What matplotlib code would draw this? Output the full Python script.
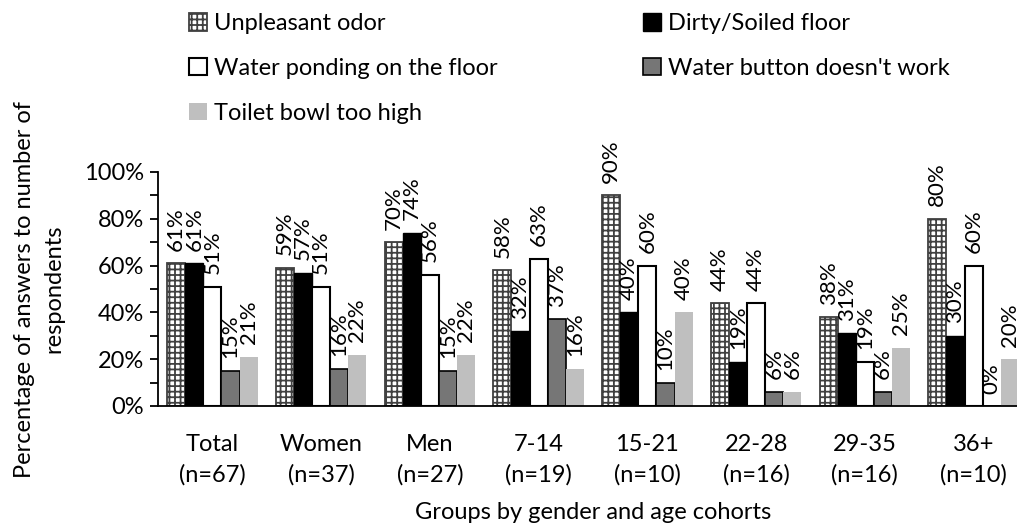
import numpy as np
import matplotlib.pyplot as plt
from matplotlib.patches import Patch

plt.rcParams["font.family"] = ["Lato", "DejaVu Sans"]
plt.rcParams["hatch.linewidth"] = 1.3

groups = ["Total\n(n=67)", "Women\n(n=37)", "Men\n(n=27)", "7-14\n(n=19)",
          "15-21\n(n=10)", "22-28\n(n=16)", "29-35\n(n=16)", "36+\n(n=10)"]

unpleasant_odor = [61, 59, 70, 58, 90, 44, 38, 80]
dirty_floor = [61, 57, 74, 32, 40, 19, 31, 30]
water_ponding = [51, 51, 56, 63, 60, 44, 19, 60]
water_button = [15, 16, 15, 37, 10, 6, 6, 0]
toilet_high = [21, 22, 22, 16, 40, 6, 25, 20]

series = [
    ("Unpleasant odor", unpleasant_odor, dict(facecolor="white", edgecolor="#404040", hatch="+++", linewidth=1.3)),
    ("Dirty/Soiled floor", dirty_floor, dict(facecolor="black", edgecolor="black", linewidth=1.0)),
    ("Water ponding on the floor", water_ponding, dict(facecolor="white", edgecolor="black", linewidth=1.5)),
    ("Water button doesn't work", water_button, dict(facecolor="#767676", edgecolor="black", linewidth=1.2)),
    ("Toilet bowl too high", toilet_high, dict(facecolor="#bfbfbf", edgecolor="none", linewidth=0)),
]

fs = 17

fig = plt.figure(figsize=(10.17, 5.29), dpi=100)
ax = fig.add_axes([158 / 1017, 123 / 529, 870 / 1017, 234 / 529])

x = np.arange(len(groups))
width = 1 / 6
handles = []
for i, (name, vals, style) in enumerate(series):
    pos = x + (i - 2) * width
    vals = np.array(vals) / 100
    bars = ax.bar(pos, vals, width, label=name, **style)
    for b, v in zip(bars, vals):
        ax.annotate("{:.0%}".format(v), (b.get_x() + b.get_width() / 2, v),
                    xytext=(0, 9), textcoords="offset points",
                    rotation=90, ha="center", va="bottom", fontsize=16)
    handles.append(Patch(label=name, **style))

ax.set_xlim(-0.5, len(groups) - 0.5)
ax.set_ylim(0, 1)
ax.set_yticks(np.arange(0, 1.01, 0.2))
ax.set_yticks(np.arange(0.1, 1.0, 0.2), minor=True)
ax.set_yticklabels(["{:.0%}".format(t) for t in np.arange(0, 1.01, 0.2)], fontsize=fs)
ax.set_xticks(x)
ax.set_xticklabels(groups, fontsize=fs, linespacing=1.55)
ax.tick_params(axis="x", length=0, pad=20)
ax.tick_params(axis="y", which="both", direction="out", length=6, width=1.3, pad=4)

for side in ["top", "right"]:
    ax.spines[side].set_visible(False)
for side in ["left", "bottom"]:
    ax.spines[side].set_linewidth(1.3)

ax.set_ylabel("Percentage of answers to number of\nrespondents", fontsize=fs, linespacing=1.45)
ax.yaxis.set_label_coords(-0.108, 0.5)
ax.set_xlabel("Groups by gender and age cohorts", fontsize=fs)
ax.xaxis.set_label_coords((593 - 158) / 870, -0.41)

order = [0, 2, 4, 1, 3]
fig.legend([handles[i] for i in order], [series[i][0] for i in order],
           ncol=2, loc="upper left", bbox_to_anchor=(168 / 1017, 1.015),
           frameon=False, fontsize=fs, handlelength=0.75, handleheight=0.75,
           handletextpad=0.3, columnspacing=6.15, labelspacing=1.0)

plt.savefig("out.png")
